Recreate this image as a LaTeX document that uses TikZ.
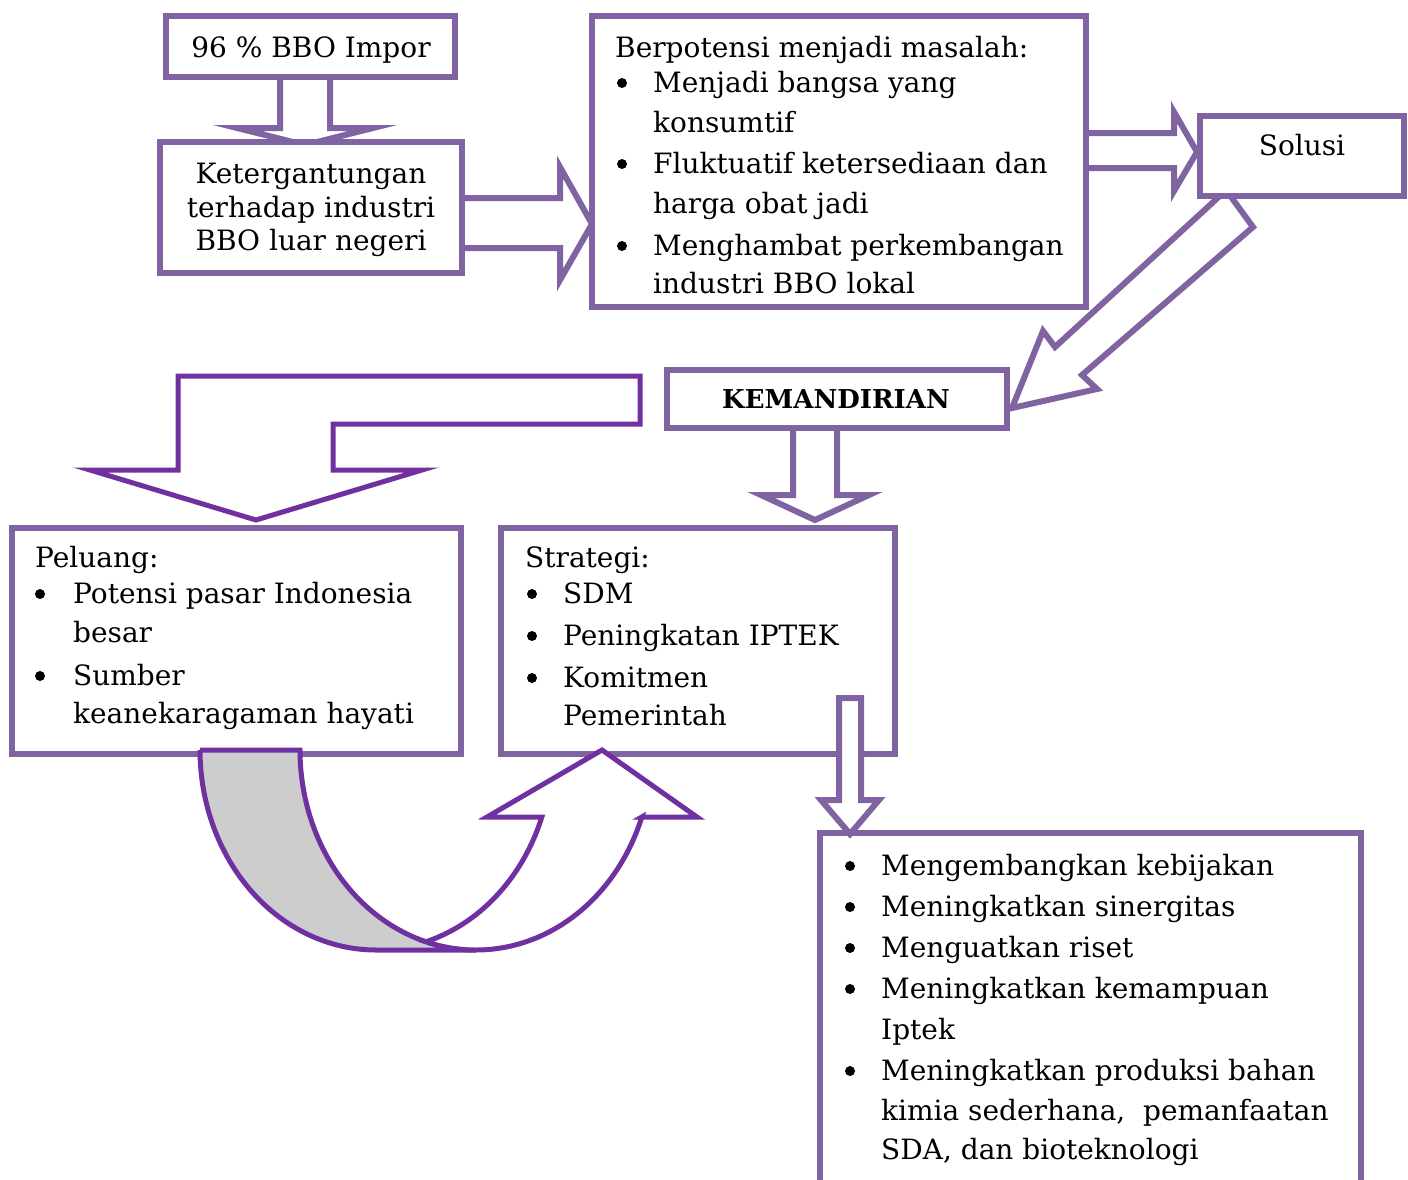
\documentclass[tikz,border=0pt]{standalone}
\usepackage{fontspec}
\setmainfont{DejaVu Serif}
\usetikzlibrary{calc}
\definecolor{boxc}{HTML}{8064A2}
\definecolor{arrc}{HTML}{7030A0}
\definecolor{bandc}{HTML}{CDCDCD}
\tikzset{
  box/.style={draw=boxc, line width=6pt, fill=white, inner sep=0pt, outer sep=0pt},
  blk/.style={draw=boxc, line width=6pt, fill=white, line join=miter},
  blkd/.style={draw=arrc, line width=5pt, fill=white, line join=miter},
  txt/.style={inner sep=0pt, anchor=base west, font=\fontsize{28}{32}\selectfont},
  ctxt/.style={inner sep=0pt, anchor=base, font=\fontsize{28}{32}\selectfont},
  bul/.style={circle, fill=black, inner sep=0pt, minimum size=10pt},
}
\begin{document}
\begin{tikzpicture}[x=1pt,y=-1pt]
\useasboundingbox (0,0) rectangle (1408,1179);
% ---- block arrows under the boxes
\draw[blk] (280,70) -- (280,128) -- (237,128) -- (305,145) -- (373,128) -- (330,128) -- (330,70) -- cycle;
\draw[blk] (455,198) -- (560,198) -- (560,167) -- (592,224) -- (560,280) -- (560,248) -- (455,248) -- cycle;
\draw[blk] (1080,133) -- (1174,133) -- (1174,112) -- (1197,152) -- (1174,191) -- (1174,168) -- (1080,168) -- cycle;
\draw[blk] (1226,190) -- (1253,227) -- (1082,375) -- (1097,389) -- (1012,408) -- (1043,331) -- (1055,347) -- (1210,205) -- cycle;
\draw[blk] (793,420) -- (793,495) -- (761,495) -- (815,520) -- (869,495) -- (837,495) -- (837,420) -- cycle;
\draw[blkd] (178,376) -- (640,376) -- (640,424) -- (333,424) -- (333,470) -- (422,470) -- (256,520) -- (90,470) -- (178,470) -- cycle;
% ---- boxes
\node[box, minimum width=289pt, minimum height=61pt] (A) at (310.5,46.5) {};
\node[box, minimum width=302pt, minimum height=131pt] (B) at (311,207.5) {};
\node[box, minimum width=494pt, minimum height=291pt] (C) at (839,161.5) {};
\node[box, minimum width=204pt, minimum height=80pt] (S) at (1302,156) {};
\node[box, minimum width=340pt, minimum height=58pt] (K) at (837,399) {};
\node[box, minimum width=449pt, minimum height=226pt] (P) at (236.5,641) {};
\node[box, minimum width=394pt, minimum height=226pt] (T) at (698,641) {};
\node[box, minimum width=541pt, minimum height=387pt] (L) at (1090.5,1026.5) {};
% ---- curved arrow (Peluang -> Strategi)
\draw[draw=arrc, line width=5pt, fill=bandc, line join=miter]
  (200,750) -- (300,750)
  -- plot[domain=0:90, samples=60] ({476+176*cos(180-\x)},{750+200*sin(180-\x)})
  -- (376,950)
  -- plot[domain=0:90, samples=60] ({376+176*cos(90+\x)},{750+200*sin(90+\x)})
  -- cycle;
\draw[blkd]
  plot[domain=0:1, samples=60] ({376+176*cos(73.495-53.925*\x)},{750+200*sin(73.495-53.925*\x)})
  -- (487,817) -- (602,750) -- (697,817) -- (641.8,817)
  -- plot[domain=0:1, samples=60] ({476+176*cos(19.57+86.935*\x)},{750+200*sin(19.57+86.935*\x)})
  -- cycle;
% ---- Strategi -> bottom box
\draw[blk] (839,698) -- (839,800) -- (821,800) -- (850,834) -- (879,800) -- (861,800) -- (861,698) -- cycle;
% ---- texts
\node[ctxt] (tA) at (311,57) {96 \% BBO Impor};
\node[ctxt] (tB1) at (311,183) {Ketergantungan};
\node[ctxt] (tB2) at (311,217) {terhadap industri};
\node[ctxt] (tB3) at (311,250) {BBO luar negeri};
\node[txt] (tC0) at (615,57) {Berpotensi menjadi masalah:};
\node[bul] (bC1) at (622,83) {};
\node[bul] (bC2) at (622,164) {};
\node[bul] (bC3) at (622,246) {};
\node[txt] (tC1) at (653,92) {Menjadi bangsa yang};
\node[txt] (tC2) at (653,132) {konsumtif};
\node[txt] (tC3) at (653,173) {Fluktuatif ketersediaan dan};
\node[txt] (tC4) at (653,213) {harga obat jadi};
\node[txt] (tC5) at (653,255) {Menghambat perkembangan};
\node[txt] (tC6) at (653,293) {industri BBO lokal};
\node[ctxt] (tS) at (1302,155) {Solusi};
\node[ctxt, font=\fontsize{26}{30}\selectfont\bfseries] (tK) at (836,408) {KEMANDIRIAN};
\node[txt] (tP0) at (35,567) {Peluang:};
\node[bul] (bP1) at (40,594) {};
\node[bul] (bP2) at (40,676) {};
\node[txt] (tP1) at (73,603) {Potensi pasar Indonesia};
\node[txt] (tP2) at (73,642) {besar};
\node[txt] (tP3) at (73,685) {Sumber};
\node[txt] (tP4) at (73,723) {keanekaragaman hayati};
\node[txt] (tT0) at (525,567) {Strategi:};
\node[bul] (bT1) at (532,594) {};
\node[bul] (bT2) at (532,636) {};
\node[bul] (bT3) at (532,678) {};
\node[txt] (tT1) at (563,603) {SDM};
\node[txt] (tT2) at (563,645) {Peningkatan IPTEK};
\node[txt] (tT3) at (563,687) {Komitmen};
\node[txt] (tT4) at (563,725) {Pemerintah};
\node[bul] (bL1) at (850,866) {};
\node[bul] (bL2) at (850,907) {};
\node[bul] (bL3) at (850,948) {};
\node[bul] (bL4) at (850,989) {};
\node[bul] (bL5) at (850,1071) {};
\node[txt] (tL1) at (881,875) {Mengembangkan kebijakan};
\node[txt] (tL2) at (881,916) {Meningkatkan sinergitas};
\node[txt] (tL3) at (881,957) {Menguatkan riset};
\node[txt] (tL4) at (881,998) {Meningkatkan kemampuan};
\node[txt] (tL5) at (881,1039) {Iptek};
\node[txt] (tL6) at (881,1080) {Meningkatkan produksi bahan};
\node[txt] (tL7) at (881,1120) {kimia sederhana,\ \ pemanfaatan};
\node[txt] (tL8) at (881,1159) {SDA, dan bioteknologi};
\end{tikzpicture}
\end{document}
